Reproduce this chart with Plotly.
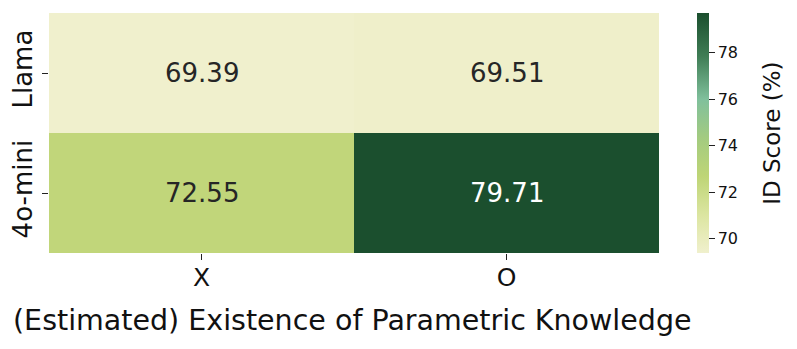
import plotly.graph_objects as go

models = ['Llama', '4o-mini']
knowledge = ['X', 'O']
scores = [
    [69.39, 69.51],
    [72.55, 79.71],
]
x_title = '(Estimated) Existence of Parametric Knowledge'
cbar_title = 'ID Score (%)'
cbar_ticks = [70, 72, 74, 76, 78]

colorscale = [
    [0.0, '#f0f0cd'],
    [0.15, '#dde6a3'],
    [0.32, '#bed576'],
    [0.48, '#a3cb80'],
    [0.64, '#80c09c'],
    [0.82, '#3f7d55'],
    [1.0, '#1b4f2e'],
]

zmin = min(min(r) for r in scores)
zmax = max(max(r) for r in scores)

fig = go.Figure()

fig.add_trace(go.Heatmap(
    z=scores,
    x=knowledge,
    y=models,
    zmin=zmin,
    zmax=zmax,
    colorscale=colorscale,
    xgap=0, ygap=0,
    colorbar=dict(
        x=1.062, xanchor='left', xpad=0, ypad=0,
        y=0.5, yanchor='middle', len=1, lenmode='fraction',
        thickness=12, outlinewidth=0,
        tickvals=cbar_ticks,
        ticks='outside', ticklen=6, tickcolor='#222',
        tickfont=dict(size=16, color='#111'),
    ),
))

# cell labels, white on the dark cell
for i, row in enumerate(scores):
    for j, v in enumerate(row):
        frac = (v - zmin) / (zmax - zmin)
        fig.add_annotation(
            x=knowledge[j], y=models[i], text=f'{v:.2f}',
            showarrow=False,
            font=dict(size=26, color='white' if frac > 0.6 else '#262626'),
        )

fig.add_annotation(
    x=0.498, y=-0.283, xref='paper', yref='paper',
    xanchor='center', yanchor='middle',
    text=x_title, showarrow=False,
    font=dict(size=28.5, color='#111'),
)
fig.add_annotation(
    x=1.185, y=0.5, xref='paper', yref='paper',
    xanchor='center', yanchor='middle', textangle=-90,
    text=cbar_title, showarrow=False,
    font=dict(size=23, color='#111'),
)

fig.update_xaxes(
    automargin=False,
    tickfont=dict(size=25, color='#111'),
    ticks='outside', ticklen=6, tickcolor='#222',
    ticklabelstandoff=-4,
    showgrid=False, zeroline=False,
)
fig.update_yaxes(
    automargin=False,
    autorange='reversed',
    tickangle=-90,
    tickfont=dict(size=26, color='#111'),
    ticks='outside', ticklen=6, tickcolor='#222',
    showgrid=False, zeroline=False,
)

# the page body adds an 8px border, so the figure is 8px smaller
fig.update_layout(
    width=789, height=341,
    margin=dict(l=41, r=138, t=5, b=96),
    paper_bgcolor='white',
    plot_bgcolor='white',
    font=dict(family='DejaVu Sans', color='#111'),
)

fig.write_html('out.html')
